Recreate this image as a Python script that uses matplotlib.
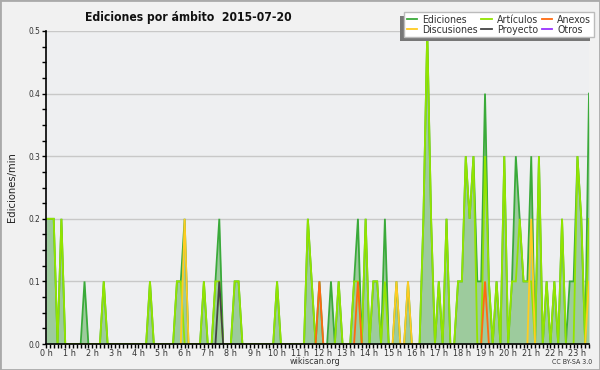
import numpy as np
import matplotlib
matplotlib.use("Agg")
import matplotlib.pyplot as plt
from matplotlib.patches import Rectangle
from matplotlib.ticker import MultipleLocator, FixedLocator

plt.rcParams['font.family'] = ['DejaVu Sans']
plt.rcParams['font.stretch'] = 'condensed'

# Edits per minute, one value per 10-minute slot, 00:00 .. 23:30
ediciones = [
    0.2, 0.2, 0.2, 0.0, 0.2, 0.0, 0.0, 0.0, 0.0, 0.0, 0.1, 0.0,   # 0-2h
    0.0, 0.0, 0.0, 0.1, 0.0, 0.0, 0.0, 0.0, 0.0, 0.0, 0.0, 0.0,   # 2-4h
    0.0, 0.0, 0.0, 0.1, 0.0, 0.0, 0.0, 0.0, 0.0, 0.0, 0.1, 0.1,   # 4-6h
    0.2, 0.0, 0.0, 0.0, 0.0, 0.1, 0.0, 0.0, 0.1, 0.2, 0.0, 0.0,   # 6-8h
    0.0, 0.1, 0.1, 0.0, 0.0, 0.0, 0.0, 0.0, 0.0, 0.0, 0.0, 0.0,   # 8-10h
    0.1, 0.0, 0.0, 0.0, 0.0, 0.0, 0.0, 0.0, 0.2, 0.1, 0.0, 0.1,   # 10-12h
    0.0, 0.0, 0.1, 0.0, 0.1, 0.0, 0.0, 0.0, 0.1, 0.2, 0.0, 0.2,   # 12-14h
    0.0, 0.1, 0.1, 0.0, 0.2, 0.0, 0.0, 0.1, 0.0, 0.0, 0.1, 0.0,   # 14-16h
    0.0, 0.0, 0.2, 0.5, 0.2, 0.0, 0.1, 0.0, 0.2, 0.0, 0.0, 0.1,   # 16-18h
    0.1, 0.3, 0.2, 0.3, 0.1, 0.1, 0.4, 0.1, 0.0, 0.1, 0.0, 0.3,   # 18-20h
    0.0, 0.1, 0.3, 0.2, 0.1, 0.1, 0.3, 0.0, 0.3, 0.0, 0.1, 0.0,   # 20-22h
    0.1, 0.0, 0.2, 0.0, 0.1, 0.1, 0.3, 0.2, 0.0, 0.4,             # 22-23:30
]
articulos = [
    0.2, 0.2, 0.2, 0.0, 0.2, 0.0, 0.0, 0.0, 0.0, 0.0, 0.0, 0.0,
    0.0, 0.0, 0.0, 0.1, 0.0, 0.0, 0.0, 0.0, 0.0, 0.0, 0.0, 0.0,
    0.0, 0.0, 0.0, 0.1, 0.0, 0.0, 0.0, 0.0, 0.0, 0.0, 0.1, 0.1,
    0.0, 0.0, 0.0, 0.0, 0.0, 0.1, 0.0, 0.0, 0.1, 0.1, 0.0, 0.0,
    0.0, 0.1, 0.1, 0.0, 0.0, 0.0, 0.0, 0.0, 0.0, 0.0, 0.0, 0.0,
    0.1, 0.0, 0.0, 0.0, 0.0, 0.0, 0.0, 0.0, 0.2, 0.1, 0.0, 0.0,
    0.0, 0.0, 0.0, 0.0, 0.1, 0.0, 0.0, 0.0, 0.1, 0.1, 0.0, 0.2,
    0.0, 0.1, 0.1, 0.0, 0.1, 0.0, 0.0, 0.0, 0.0, 0.0, 0.0, 0.0,
    0.0, 0.0, 0.2, 0.5, 0.2, 0.0, 0.1, 0.0, 0.2, 0.0, 0.0, 0.1,
    0.1, 0.3, 0.2, 0.3, 0.0, 0.0, 0.3, 0.1, 0.0, 0.1, 0.0, 0.3,
    0.0, 0.1, 0.1, 0.2, 0.1, 0.1, 0.1, 0.0, 0.3, 0.0, 0.1, 0.0,
    0.1, 0.0, 0.2, 0.0, 0.0, 0.0, 0.3, 0.2, 0.0, 0.2,
]
anexos = [0.0] * 142
discusiones = [0.0] * 142
proyecto = [0.0] * 142
otros = [0.0] * 142
for slot, v in {71: 0.1, 81: 0.1, 114: 0.1}.items():
    anexos[slot] = v
for slot, v in {36: 0.2, 91: 0.1, 94: 0.1, 126: 0.2, 141: 0.1}.items():
    discusiones[slot] = v
for slot, v in {45: 0.1}.items():
    proyecto[slot] = v

hour_labels = [f"{h} h" for h in range(24)]
title = "Ediciones por ámbito  2015-07-20"

W, H = 600, 370
fig = plt.figure(figsize=(W / 100, H / 100), dpi=100, facecolor='#f1f1f1')
ax = fig.add_axes([46 / W, 1 - 344 / H, (589 - 46) / W, (344 - 31) / H])
ax.set_facecolor('#eeeff1')

t = np.arange(len(ediciones)) / 6.0

ax.fill_between(t, ediciones, 0, color='#9dcb9d', lw=0, zorder=2)
series = [
    (ediciones, '#3aaa3a', 'Ediciones'),
    (articulos, '#92e400', 'Artículos'),
    (anexos, '#ff6a10', 'Anexos'),
    (discusiones, '#ffcc22', 'Discusiones'),
    (proyecto, '#444444', 'Proyecto'),
    (otros, '#9933ff', 'Otros'),
]
handles = {}
for k, (vals, col, lab) in enumerate(series):
    arr = np.array(vals)
    if k >= 2:
        m = np.zeros_like(arr, dtype=bool)
        for i in range(len(arr)):
            if arr[i] > 0 or (i > 0 and arr[i - 1] > 0) or (i < len(arr) - 1 and arr[i + 1] > 0):
                m[i] = True
        y = np.where(m, arr, np.nan)
        ax.plot(t, y, color=col, lw=1.3, zorder=3 + k, solid_joinstyle='miter')
        handles[lab] = ax.plot([], [], color=col, lw=1.3)[0]
    else:
        ln, = ax.plot(t, arr, color=col, lw=1.3, zorder=3 + k, solid_joinstyle='miter')
        handles[lab] = ln

ax.set_xlim(0, 23.5)
ax.set_ylim(0, 0.5)
ax.xaxis.set_major_locator(FixedLocator(range(24)))
ax.set_xticklabels(hour_labels)
ax.xaxis.set_minor_locator(MultipleLocator(1 / 6))
ax.yaxis.set_major_locator(MultipleLocator(0.1))
ax.yaxis.set_minor_locator(MultipleLocator(0.025))
ax.yaxis.set_major_formatter(matplotlib.ticker.FormatStrFormatter('%.1f'))
ax.tick_params(axis='both', which='both', direction='out', length=3, width=1,
               color='black', labelcolor='#333333', pad=1)
ax.tick_params(axis='y', labelsize=6)
ax.tick_params(axis='x', labelsize=6.5, pad=0.5)
for s in ('top', 'right'):
    ax.spines[s].set_visible(False)
for s in ('left', 'bottom'):
    ax.spines[s].set_color('black')
    ax.spines[s].set_linewidth(1.2)
    ax.spines[s].set_zorder(20)
ax.grid(axis='y', which='major', color='#c8c8c8', lw=1, zorder=1)
ax.set_axisbelow(True)
ax.set_ylabel('Ediciones/min', fontsize=8, color='#222222', labelpad=8)

fig.text(85 / W, 1 - 17 / H, title, fontsize=8.7, fontweight='bold', va='center', ha='left', color='#111111')
fig.text(315 / W, 1 - 362 / H, 'wikiscan.org', fontsize=6.5, ha='center', va='center', color='#333333')
fig.text(572 / W, 1 - 362 / H, 'CC BY-SA 3.0', fontsize=5, ha='center', va='center', color='#333333')

order = ['Ediciones', 'Discusiones', 'Artículos', 'Proyecto', 'Anexos', 'Otros']
leg = fig.legend([handles[o] for o in order], order, ncol=3, loc='upper left',
                 bbox_to_anchor=(404 / W, 1 - 12 / H), borderaxespad=0,
                 fontsize=7.6, handlelength=1.0, handletextpad=0.5,
                 columnspacing=0.3, labelspacing=0.0, borderpad=0.25,
                 fancybox=False, framealpha=1, facecolor='white', edgecolor='#bbbbbb')
leg.set_zorder(10)
for txt in leg.get_texts():
    txt.set_color('#333333')
fig.canvas.draw()
bb = leg.get_window_extent()
shadow = Rectangle((bb.x0 - 4, bb.y0 - 4), bb.width, bb.height, transform=None,
                   facecolor='#777777', edgecolor='none', zorder=9)
fig.patches.append(shadow)

fig.patches.append(Rectangle((0, 0), 1, 1, transform=fig.transFigure, fill=False,
                             edgecolor='#aaaaaa', lw=2, zorder=30))
fig.savefig('out.png', dpi=100, facecolor=fig.get_facecolor())
